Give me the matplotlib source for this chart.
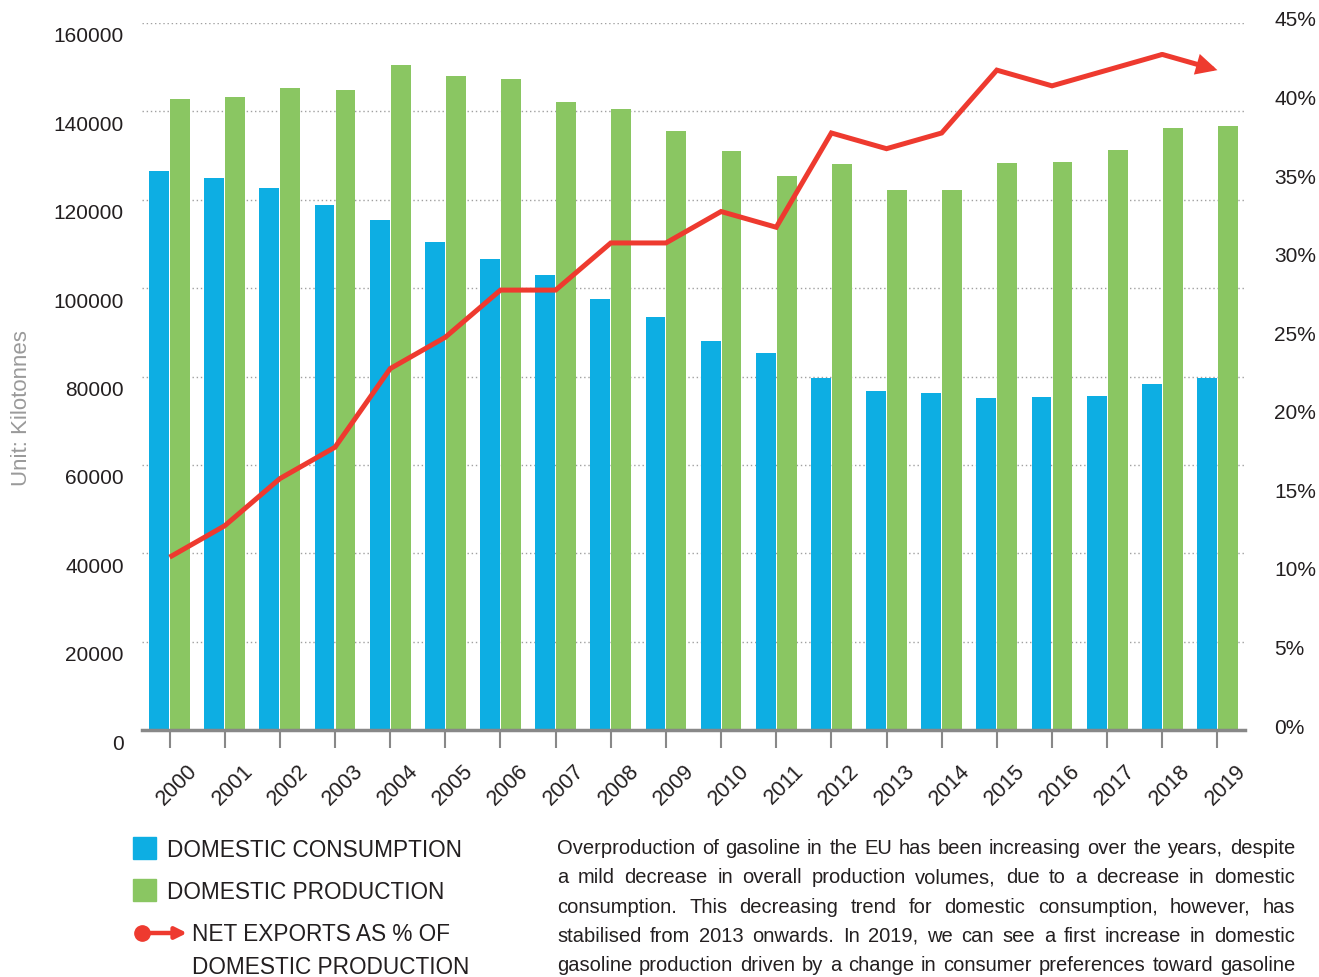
import matplotlib
matplotlib.use("Agg")
import matplotlib.pyplot as plt
import matplotlib.transforms as mtransforms
from matplotlib.patches import Rectangle
import numpy as np

plt.rcParams['font.family'] = ['Liberation Sans', 'DejaVu Sans']

years = [str(y) for y in range(2000, 2020)]
consumption = [126500, 124900, 122600, 118800, 115400, 110400, 106600, 103000, 97500, 93500,
               88000, 85300, 79700, 76700, 76300, 75100, 75400, 75600, 78300, 79700]
production = [142800, 143200, 145300, 144800, 150500, 148000, 147300, 142100, 140500, 135600,
              131000, 125400, 128100, 122200, 122200, 128300, 128500, 131300, 136200, 136700]
net_exports_pct = [11, 13, 16, 18, 23, 25, 28, 28, 31, 31, 33, 32, 38, 37, 38, 42, 41, 42, 43, 42]

legend_labels = ["DOMESTIC CONSUMPTION", "DOMESTIC PRODUCTION",
                 "NET EXPORTS AS % OF", "DOMESTIC PRODUCTION"]
note_lines = [
    "Overproduction of gasoline in the EU has been increasing over the years, despite",
    "a mild decrease in overall production volumes, due to a decrease in domestic",
    "consumption. This decreasing trend for domestic consumption, however, has",
    "stabilised from 2013 onwards. In 2019, we can see a first increase in domestic",
    "gasoline production driven by a change in consumer preferences toward gasoline",
]

BLUE = "#0DAEE3"
GREEN = "#8AC662"
RED = "#EE3A2F"
TXT = "#231F20"

W, H = 1319, 977
fig = plt.figure(figsize=(W / 100, H / 100), dpi=100)
ax = fig.add_axes([142 / W, 1 - 730 / H, (1245 - 142) / W, (730 - 23) / H])

x = np.arange(len(years))
bw = 0.36
ax.bar(x - 0.19, consumption, width=bw, color=BLUE, zorder=2)
ax.bar(x + 0.19, production, width=bw, color=GREEN, zorder=2)

ax.set_xlim(-0.5, len(years) - 0.5)
ax.set_ylim(0, 160000)
ax.set_yticks(np.arange(0, 160001, 20000))
ax.yaxis.grid(True, linestyle=(0, (1, 2)), color="#A0A0A0", linewidth=1)
ax.set_axisbelow(True)
for s in ["top", "left", "right"]:
    ax.spines[s].set_visible(False)
ax.spines["bottom"].set_color("#888888")
ax.spines["bottom"].set_linewidth(2.5)
ax.spines["bottom"].set_zorder(3)

ax.set_xticks(x)
ax.set_xticklabels(years, rotation=45, fontsize=15.5, color=TXT)
ax.tick_params(axis="x", length=13, width=1.5, color="#888888", pad=9)
ax.tick_params(axis="y", length=0, pad=13, labelsize=15, labelcolor=TXT)
for lbl in ax.get_xticklabels():
    lbl.set_transform(lbl.get_transform() + mtransforms.ScaledTranslation(0.08, 0, fig.dpi_scale_trans))
for lbl in ax.get_yticklabels():
    lbl.set_transform(lbl.get_transform() + mtransforms.ScaledTranslation(0, -0.12, fig.dpi_scale_trans))

fig.text(22 / W, 1 - 408 / H, "Unit: Kilotonnes", rotation=90, ha="center", va="center",
         fontsize=16, color="#9A9A9A")

ax2 = ax.twinx()
ax2.set_ylim(0, 45)
ax2.set_yticks(np.arange(0, 46, 5))
ax2.set_yticklabels([f"{v}%" for v in range(0, 46, 5)])
ax2.tick_params(axis="y", length=0, pad=21, labelsize=15, labelcolor=TXT)
for lbl in ax2.get_yticklabels():
    lbl.set_transform(lbl.get_transform() + mtransforms.ScaledTranslation(0, 0.04, fig.dpi_scale_trans))
for s in ax2.spines.values():
    s.set_visible(False)

ax2.plot(x[:-1], net_exports_pct[:-1], color=RED, linewidth=3.6,
         solid_joinstyle="miter", solid_capstyle="butt", zorder=4)
ax2.annotate("", xy=(x[-1], net_exports_pct[-1]), xytext=(x[-2], net_exports_pct[-2]),
             arrowprops=dict(arrowstyle="-|>", color=RED, lw=3.6, mutation_scale=24,
                             shrinkA=0, shrinkB=0, joinstyle="miter"), zorder=4)

# legend and note, drawn in pixel coordinates
lax = fig.add_axes([0, 0, 1, 1])
lax.set_xlim(0, W)
lax.set_ylim(H, 0)
lax.axis("off")

lax.add_patch(Rectangle((133, 837), 23, 22, color=BLUE))
lax.add_patch(Rectangle((133, 879), 23, 22, color=GREEN))
lax.text(167, 857, legend_labels[0], fontsize=16.3, color=TXT, va="baseline")
lax.text(167, 899, legend_labels[1], fontsize=16.3, color=TXT, va="baseline")
lax.plot([142], [933], marker="o", markersize=11, color=RED)
lax.annotate("", xy=(187, 933), xytext=(142, 933),
             arrowprops=dict(arrowstyle="-|>", color=RED, lw=3.2, mutation_scale=17,
                             shrinkA=0, shrinkB=0))
lax.text(192, 941, legend_labels[2], fontsize=16.3, color=TXT, va="baseline")
lax.text(192, 974, legend_labels[3], fontsize=16.3, color=TXT, va="baseline")

# justified paragraph
renderer = fig.canvas.get_renderer()
x0, x1 = 557, 1295
for i, line in enumerate(note_lines):
    y = 854 + i * 29.3
    words = line.split(" ")
    objs = [lax.text(0, y, w, fontsize=14.5, color=TXT, va="baseline") for w in words]
    widths = [o.get_window_extent(renderer).width for o in objs]
    gap = (x1 - x0 - sum(widths)) / (len(words) - 1)
    pos = x0
    for o, wdt in zip(objs, widths):
        o.set_x(pos)
        pos += wdt + gap

fig.savefig("out.png", dpi=100)
